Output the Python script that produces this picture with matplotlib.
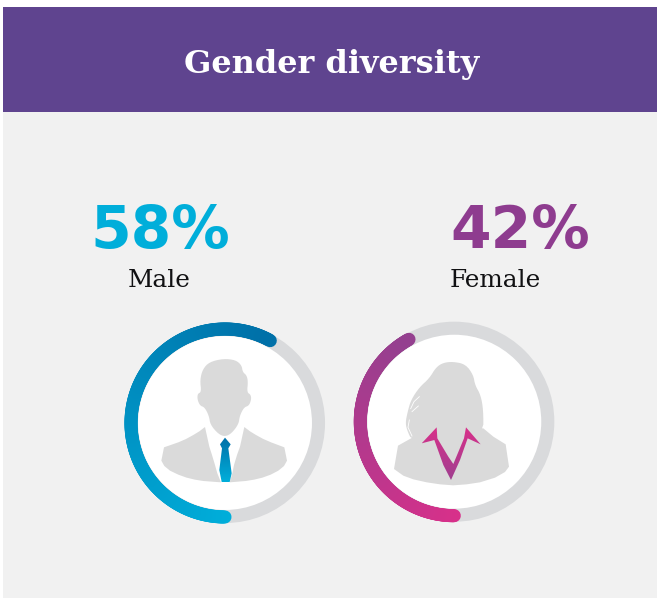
import numpy as np
import matplotlib
matplotlib.use('Agg')
import matplotlib.pyplot as plt
from matplotlib.collections import LineCollection
from matplotlib.colors import LinearSegmentedColormap
from matplotlib.patches import Circle, Polygon, Rectangle

title = 'Gender diversity'
labels = ['Male', 'Female']
shares = [58, 42]
share_colors = ['#00AEDA', '#8E3C8F']
arc_starts = ['#00AEDA', '#D8308A']
arc_ends = ['#0070A8', '#94408F']

# icon outlines, in zoom crop pixels (3x) of each ring box
male_head = [(340, 146), (377, 150), (395, 166), (398, 186), (410, 196), (414, 215), (411, 247),
             (422, 254), (424, 268), (417, 287), (402, 292), (389, 318), (386, 342), (365, 370),
             (345, 380), (325, 372), (301, 344), (297, 318), (284, 292), (270, 287), (262, 268),
             (263, 251), (274, 246), (270, 210), (278, 178), (298, 156)]
male_suit_l = [(285, 351), (268, 364), (250, 375), (228, 387), (205, 397), (162, 412), (158, 432),
               (154, 452), (163, 468), (180, 482), (205, 494), (230, 503), (255, 509), (280, 513),
               (333, 517), (322, 490), (315, 465), (306, 435), (298, 410)]
male_suit_r = [(403, 351), (420, 364), (438, 375), (460, 387), (483, 397), (523, 412), (527, 432),
               (531, 452), (522, 468), (505, 482), (482, 494), (457, 503), (432, 509), (407, 513),
               (359, 517), (367, 490), (372, 465), (381, 435), (390, 410)]
male_tie = [(345, 383), (362, 403), (355, 415), (365, 490), (359, 516), (335, 516), (328, 480),
            (336, 415), (330, 403)]
female_head = [(340, 155), (377, 163), (400, 195), (405, 225), (422, 255), (430, 300), (430, 370),
               (340, 420), (215, 390), (203, 365), (196, 340), (203, 305),
               (213, 270), (238, 232), (268, 205), (288, 172), (310, 158)]
female_suit = [(430, 355), (460, 380), (497, 403), (502, 437), (507, 470), (495, 486), (465, 503),
               (420, 517), (380, 523), (340, 526), (300, 523), (260, 517), (220, 508), (190, 497),
               (162, 477), (168, 442), (174, 407), (215, 384), (300, 360)]
female_collar = [(290, 352), (245, 400), (283, 390), (310, 465), (333, 510), (360, 450), (383, 385),
                 (422, 403), (378, 352), (372, 385), (340, 462), (325, 440), (292, 385)]
female_streaks = [[(212, 296), (222, 275), (238, 260)], [(216, 305), (235, 288)],
                  [(208, 330), (204, 352), (216, 378)]]

SIL = '#DADADA'
GREY = '#D9DADC'

fig = plt.figure(figsize=(6.57, 5.99), dpi=100)
ax = fig.add_axes([0, 0, 1, 1])
ax.set_xlim(0, 657)
ax.set_ylim(599, 0)
ax.axis('off')

ax.add_patch(Rectangle((3, 7), 654, 591, fc='#F1F1F1', ec='none'))
ax.add_patch(Rectangle((3, 7), 654, 105, fc='#5F448F', ec='none'))
ax.text(332, 64, title, color='white', fontsize=23, fontweight='bold', family='DejaVu Serif',
        ha='center', va='center')


def ring(cx, cy, share, c0, c1):
    ax.add_patch(Circle((cx, cy), 93.5, fc='white', ec=GREY, lw=9.4, zorder=2))
    cmap = LinearSegmentedColormap.from_list('arc', [c0, c1])
    ang = np.linspace(0, share / 100 * 2 * np.pi, 240)
    xs = cx - 94 * np.sin(ang)
    ys = cy + 94 * np.cos(ang)
    pts = np.column_stack([xs, ys])
    segs = np.stack([pts[:-1], pts[1:]], axis=1)
    lc = LineCollection(segs, colors=cmap(np.linspace(0, 1, len(segs))), linewidths=9.4,
                        capstyle='round', zorder=3)
    ax.add_collection(lc)


def place(points, x0, y0):
    return [(x0 + x / 3, y0 + y / 3) for x, y in points]


def smooth(points, n=2):
    # corner cutting, keeps the hand read outlines from looking faceted
    p = np.array(points, dtype=float)
    for _ in range(n):
        q = np.roll(p, -1, axis=0)
        p = np.column_stack([0.75 * p + 0.25 * q, 0.25 * p + 0.75 * q]).reshape(-1, 2)
    return p


def grad_poly(points, c_top, c_bottom):
    poly = Polygon(points, closed=True, fc='none', ec='none', zorder=5)
    ax.add_patch(poly)
    ys = [p[1] for p in points]
    xs = [p[0] for p in points]
    cmap = LinearSegmentedColormap.from_list('g', [c_top, c_bottom])
    im = ax.imshow(np.linspace(0, 1, 64).reshape(-1, 1), cmap=cmap, aspect='auto',
                   extent=(min(xs), max(xs), max(ys), min(ys)), zorder=5)
    im.set_clip_path(poly)
    ax.set_xlim(0, 657)
    ax.set_ylim(599, 0)


# male
ring(225, 423, shares[0], arc_starts[0], arc_ends[0])
ax.add_patch(Polygon(smooth(place(male_head, 110, 310)), closed=True, fc=SIL, ec='none', zorder=4))
for shape in [male_suit_l, male_suit_r]:
    ax.add_patch(Polygon(place(shape, 110, 310), closed=True, fc=SIL, ec='none', zorder=4))
grad_poly(place(male_tie, 110, 310), '#0070A8', '#00AEDA')

# female
ring(454.3, 421.7, shares[1], arc_starts[1], arc_ends[1])
ax.add_patch(Polygon(smooth(place(female_head, 340, 310)), closed=True, fc=SIL, ec='none', zorder=4))
ax.add_patch(Polygon(place(female_suit, 340, 310), closed=True, fc=SIL, ec='none', zorder=4))
for s in female_streaks:
    p = np.array(place(s, 340, 310))
    ax.plot(p[:, 0], p[:, 1], color='white', lw=0.6, zorder=4.5)
grad_poly(place(female_collar, 340, 310), '#D8308A', '#A03F90')

# numbers and labels
for x, v, c in zip([160, 520.5], shares, share_colors):
    ax.text(x, 248, f'{v}%', color=c, fontsize=42, fontweight='bold', family='DejaVu Sans',
            ha='center', va='baseline')
for x, lab in zip([159, 495], labels):
    ax.text(x, 287, lab, color='#111113', fontsize=17.8, family='DejaVu Serif',
            ha='center', va='baseline')

fig.savefig('out.png', dpi=100)
